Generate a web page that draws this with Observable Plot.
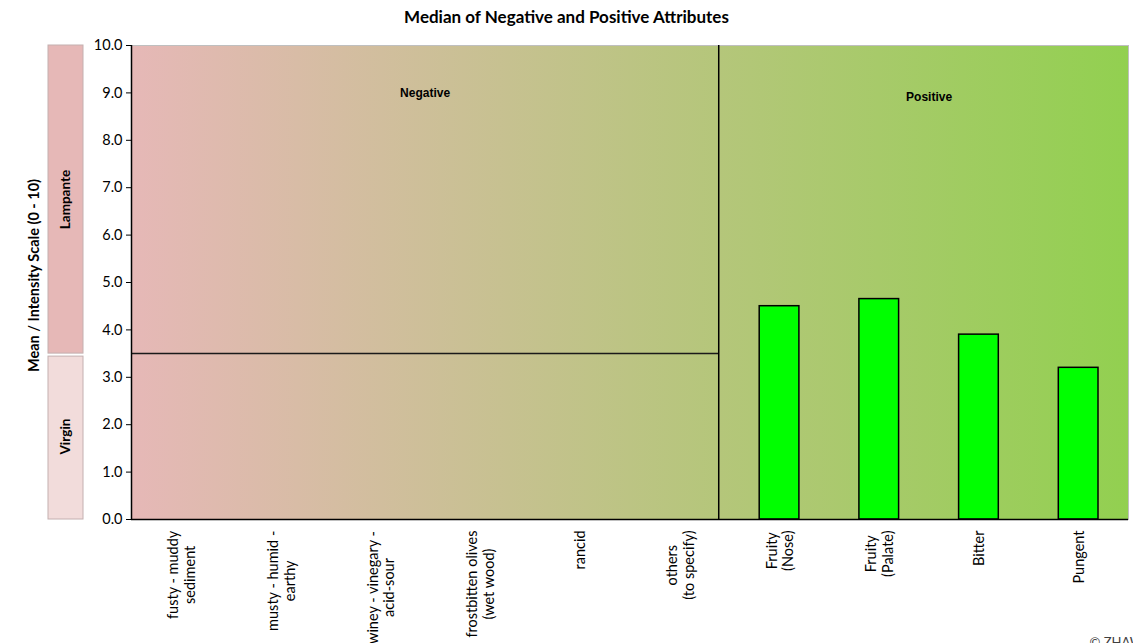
<!DOCTYPE html>
<html>
<head>
<meta charset="utf-8">
<script src="https://cdn.jsdelivr.net/npm/d3@7"></script>
<script src="https://cdn.jsdelivr.net/npm/@observablehq/plot@0.6"></script>
<style>
  html, body { margin: 0; padding: 0; background: #fff; overflow: hidden; }
  #title { font-family: Lato, "Open Sans", sans-serif; font-weight: bold; font-size: 17px; text-align: center; height: 34px; line-height: 34px; color: #000; width: 1133px; }
  #chart svg { display: block; overflow: visible; }
</style>
</head>
<body>
<div id="title">Median of Negative and Positive Attributes</div>
<div id="chart"></div>
<script>
// ---- data ----
const categories = [
  "fusty - muddy\nsediment",
  "musty - humid -\nearthy",
  "winey - vinegary -\nacid-sour",
  "frostbitten olives\n(wet wood)",
  "rancid",
  "others\n(to specify)",
  "Fruity\n(Nose)",
  "Fruity\n(Palate)",
  "Bitter",
  "Pungent"
];
const medians = [null, null, null, null, null, null, 4.5, 4.65, 3.9, 3.2];
const yTicks = [0, 1, 2, 3, 4, 5, 6, 7, 8, 9, 10];
const threshold = 3.5;           // Lampante / Virgin limit
const divider = 5.89;            // boundary between negative and positive attributes
const zoneNames = ["Lampante", "Virgin"];
const zoneLow = [3.5, 0];
const zoneHigh = [10, 3.5];
const zoneFills = ["#e6b8b7", "#f2dcdb"];
const groupNames = ["Negative", "Positive"];
const groupX = [2.945, 8.0];
const groupY = [9.0, 8.9];
const yLabel = "Mean / Intensity Scale (0 - 10)";

const bars = categories.map((c, i) => ({i, c, v: medians[i]})).filter(d => d.v != null);
const zones = zoneNames.map((n, i) => ({n, y1: zoneLow[i], y2: zoneHigh[i], fill: zoneFills[i]}));
const groups = groupNames.map((n, i) => ({n, x: groupX[i], y: groupY[i]}));

const W = 1133, H = 609;
const mL = 131, mR = 5, mT = 11, mB = 124;
const labelFont = "14.5px Lato";

function measure(label) {
  const ctx = document.createElement("canvas").getContext("2d");
  ctx.font = labelFont;
  return d3.max(label.split("\n"), s => ctx.measureText(s).width);
}

const gradient = () => {
  const defs = d3.create("svg:defs");
  const g = defs.append("linearGradient").attr("id", "bgGrad").attr("x1", "0%").attr("x2", "100%").attr("y1", "0%").attr("y2", "0%");
  g.append("stop").attr("offset", "0%").attr("stop-color", "#e6b8b7");
  g.append("stop").attr("offset", "100%").attr("stop-color", "#92d050");
  return defs.node();
};

// side zone boxes (Lampante / Virgin), placed in the left margin using the y scale
const zoneBoxes = (index, scales, values, dims) => {
  const g = d3.create("svg:g");
  const left = dims.marginLeft - 83, boxW = 35;
  g.selectAll("rect").data(zones).join("rect")
    .attr("x", left)
    .attr("width", boxW)
    .attr("y", (d, i) => scales.y(d.y2) + (i === 1 ? 3 : 0))
    .attr("height", (d, i) => scales.y(d.y1) - scales.y(d.y2) - (i === 1 ? 3 : 0))
    .attr("fill", d => d.fill)
    .attr("stroke", "#c4b0b0")
    .attr("stroke-width", 1);
  return g.node();
};

function draw() {
  const catMarks = categories.map((c, i) => Plot.text([{x: i + 0.5, t: c}], {
    x: "x", text: "t", frameAnchor: "bottom", rotate: -90, textAnchor: "middle",
    lineAnchor: "middle", lineHeight: 1.15, dy: 11 + measure(c) / 2,
    fontSize: 14.5, fill: "#000"
  }));

  const chart = Plot.plot({
    width: W, height: H,
    marginLeft: mL, marginRight: mR, marginTop: mT, marginBottom: mB,
    style: {fontFamily: "Lato, 'Open Sans', sans-serif", fontSize: "14px", color: "#000", background: "transparent"},
    x: {domain: [0, 10], axis: null},
    y: {domain: [0, 10], axis: null},
    marks: [
      gradient,
      Plot.frame({fill: "url(#bgGrad)", stroke: "#bfbfbf"}),
      zoneBoxes,
      Plot.text(zones, {y: d => (d.y1 + d.y2) / 2, text: "n", frameAnchor: "left", textAnchor: "middle",
        dx: -65.5, rotate: -90, fontWeight: "bold", fontSize: 13.5, fill: "#000"}),
      Plot.text([yLabel], {frameAnchor: "left", textAnchor: "middle", dx: -97, dy: -7, rotate: -90,
        fontWeight: "bold", fontSize: 14.5, fill: "#000"}),
      Plot.axisY({ticks: yTicks, tickFormat: d3.format(".1f"), tickSize: 5, tickPadding: 4, fontSize: 14.5}),
      Plot.ruleY([threshold], {x1: 0, x2: divider, stroke: "#1a1a1a", strokeWidth: 1.5}),
      Plot.ruleX([divider], {y1: 0, y2: 10, stroke: "#000", strokeWidth: 1.5}),
      Plot.rectY(bars, {x1: d => d.i, x2: d => d.i + 1, y: "v", insetLeft: 30, insetRight: 30,
        fill: "#00ff00", stroke: "#000", strokeWidth: 1.5}),
      Plot.ruleX([0], {stroke: "#000", strokeWidth: 1.5}),
      Plot.ruleY([0], {stroke: "#000", strokeWidth: 1.5}),
      Plot.text(groups, {x: "x", y: "y", text: "n", fontFamily: "'Liberation Sans', Arial, sans-serif",
        fontWeight: "bold", fontSize: 12, fill: "#000"}),
      ...catMarks,
      Plot.text(["© ZHAW"], {frameAnchor: "bottom-right", textAnchor: "start", dx: -39, dy: 127, fontSize: 13, fill: "#404040"})
    ]
  });
  document.getElementById("chart").append(chart);
}

(document.fonts && document.fonts.load ? document.fonts.load(labelFont).catch(() => {}) : Promise.resolve()).then(draw);
</script>
</body>
</html>
